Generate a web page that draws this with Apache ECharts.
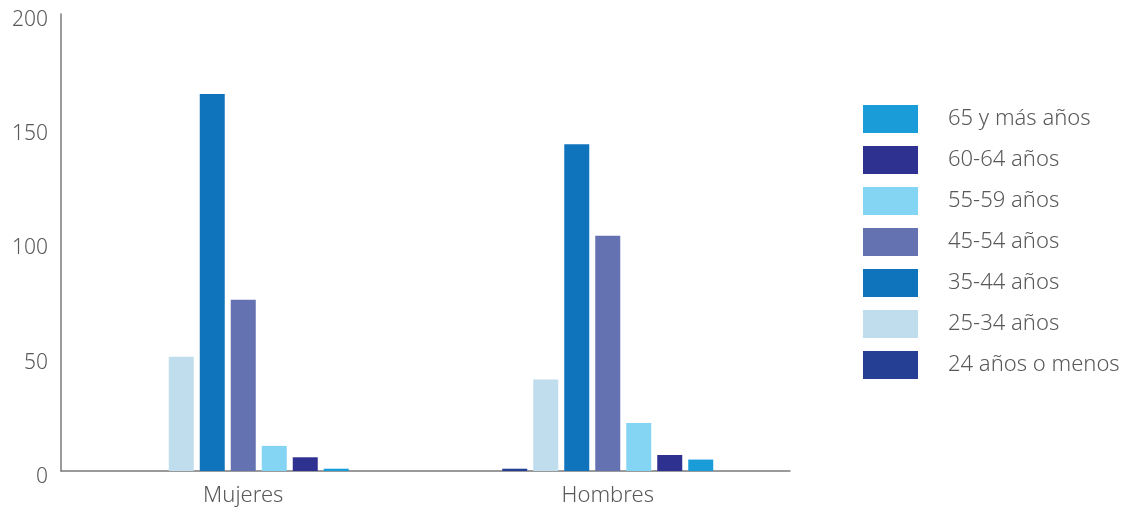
<!DOCTYPE html>
<html>
<head>
<meta charset="utf-8">
<script src="https://cdn.jsdelivr.net/npm/echarts@6/dist/echarts.min.js"></script>
<style>
  html, body { margin: 0; padding: 0; background: #fff; }
  #chart { width: 1128px; height: 512px; }
</style>
</head>
<body>
<div id="chart"></div>
<script>
const categories = ["Mujeres", "Hombres"];
const ageGroups  = ["24 años o menos", "25-34 años", "35-44 años", "45-54 años", "55-59 años", "60-64 años", "65 y más años"];
const colors     = ["#243f93", "#c0ddee", "#1074bc", "#6472b2", "#84d5f3", "#2e318f", "#1a9cd8"];

// values per age group: [Mujeres, Hombres]
const age24   = [0, 1];
const age2534 = [50, 40];
const age3544 = [165, 143];
const age4554 = [75, 103];
const age5559 = [11, 21];
const age6064 = [6, 7];
const age65   = [1, 5];
const values  = [age24, age2534, age3544, age4554, age5559, age6064, age65];

const yTicks = { min: 0, max: 200, interval: 50 };

const textClr = "#58595b", axisClr = "#7a7a7a";
const font = "Noto Sans";

const chart = echarts.init(document.getElementById("chart"));

chart.setOption({
  animation: false,
  backgroundColor: "#fff",
  textStyle: { fontFamily: font, fontWeight: 300 },
  grid: { left: 61, right: 338, top: 14, bottom: 41, containLabel: false },
  legend: {
    orient: "vertical",
    left: 858, top: 100,
    itemWidth: 55, itemHeight: 28, itemGap: 13,
    icon: "rect",
    data: [...ageGroups].reverse(),
    textStyle: { color: textClr, fontSize: 22, fontFamily: font, fontWeight: 300, padding: [0, 0, 0, 25] },
  },
  xAxis: {
    type: "category", data: categories,
    axisLine: { lineStyle: { color: axisClr, width: 1.5 } },
    axisTick: { show: false },
    axisLabel: { color: textClr, fontSize: 22, fontFamily: font, fontWeight: 300, margin: 14 },
  },
  yAxis: {
    type: "value", ...yTicks,
    axisLine: { show: true, lineStyle: { color: axisClr, width: 1.5 } },
    axisTick: { show: false },
    splitLine: { show: false },
    axisLabel: {
      color: textClr, fontSize: 21, fontFamily: font, fontWeight: 300, margin: 13,
      verticalAlign: "top", lineHeight: 12,
    },
  },
  series: ageGroups.map((name, i) => ({
    name, type: "bar", data: values[i],
    barWidth: 25, barGap: "24%",
    itemStyle: { color: colors[i] },
  })),
});
</script>
</body>
</html>
